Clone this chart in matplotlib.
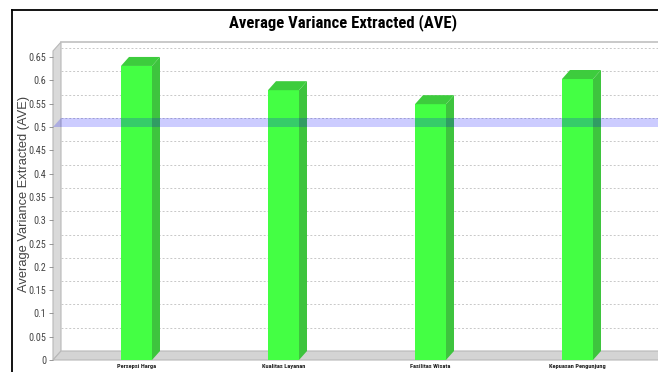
import matplotlib
matplotlib.use("Agg")
from matplotlib import pyplot as plt
from matplotlib import font_manager
from matplotlib.patches import Polygon
from matplotlib.lines import Line2D

# data
categories = ["Persepsi Harga", "Kualitas Layanan", "Fasilitas Wisata", "Kepuasan Pengunjung"]
ave_values = [0.631, 0.579, 0.549, 0.603]
threshold = 0.5
tick_values = [0, 0.05, 0.1, 0.15, 0.2, 0.25, 0.3, 0.35, 0.4, 0.45, 0.5, 0.55, 0.6, 0.65]

installed = {f.name for f in font_manager.fontManager.ttflist}
narrow_pick = [n for n in ["Liberation Sans Narrow", "Roboto Condensed", "DejaVu Sans Condensed",
                           "Open Sans Condensed", "Roboto"] if n in installed]
narrow = narrow_pick[:1] + ["DejaVu Sans"]
arial = ["Liberation Sans", "DejaVu Sans"]

W, H = 658, 372
fig = plt.figure(figsize=(W / 100, H / 100), dpi=100)
fig.patch.set_facecolor("white")

# front plane of the 3d plot, in pixels
left_px, right_px, top_px, zero_px = 53, 658, 42, 360
px_per_unit = 466.0
px_per_cat = 147.0
first_center_px = 136.5

ax = fig.add_axes([left_px / W, (H - zero_px) / H, (right_px - left_px) / W, (zero_px - top_px) / H])
ymax = (zero_px - top_px) / px_per_unit
xmin = (left_px - first_center_px) / px_per_cat
xmax = (right_px - first_center_px) / px_per_cat
ax.set_xlim(xmin, xmax)
ax.set_ylim(0, ymax)
for s in ax.spines.values():
    s.set_visible(False)

# 3d offset
DX = 8 / px_per_cat
DY = 9 / px_per_unit

# left wall and floor
ax.add_patch(Polygon([(xmin, 0), (xmin + DX, DY), (xmin + DX, ymax), (xmin, ymax - DY)],
                     closed=True, facecolor="#d9d9d9", edgecolor="#b8b8b8", lw=0.8, zorder=1, clip_on=False))
ax.add_patch(Polygon([(xmin, 0), (xmax, 0), (xmax + DX, DY), (xmin + DX, DY)],
                     closed=True, facecolor="#d4d4d4", edgecolor="#b8b8b8", lw=0.8, zorder=1, clip_on=False))
ax.plot([xmin + DX, xmax], [ymax, ymax], color="#c0c0c0", lw=1.2, zorder=1, clip_on=False)

# gridlines on back wall
for v in tick_values[1:]:
    ax.plot([xmin + DX, xmax], [v + DY, v + DY], color="#c8c8c8", lw=0.7,
            linestyle=(0, (2, 2)), zorder=1.5)

# bars
x = list(range(len(categories)))
bw = 31 / px_per_cat
ax.bar(x, ave_values, width=bw, color="#44ff44", zorder=3)
for xi, v in zip(x, ave_values):
    r = xi + bw / 2
    l = xi - bw / 2
    ax.add_patch(Polygon([(r, 0), (r + DX, DY), (r + DX, v + DY), (r, v)],
                         closed=True, facecolor="#3ec43e", edgecolor="none", zorder=3))
    ax.add_patch(Polygon([(l, v), (r, v), (r + DX, v + DY), (l + DX, v + DY)],
                         closed=True, facecolor="#3dcc3d", edgecolor="none", zorder=3))

# threshold marker plane
ax.add_patch(Polygon([(xmin, threshold), (xmax, threshold), (xmax + DX, threshold + DY),
                      (xmin + DX, threshold + DY)],
                     closed=True, facecolor="#0000ff", alpha=0.2, edgecolor="none", zorder=4))

ax.set_yticks(tick_values)
ax.set_yticklabels([f"{v:g}" for v in tick_values], fontsize=7.3, family=narrow, color="#444444")
ax.tick_params(axis="y", length=3, width=0.6, color="#888888", pad=2)
ax.set_xticks(x)
ax.set_xticklabels(categories, fontsize=4.6, fontweight="bold", family=narrow, color="#222222")
ax.tick_params(axis="x", length=0, pad=3)

fig.text(24 / W, 1 - 194 / H, "Average Variance Extracted (AVE)", rotation=90,
         ha="center", va="center", fontsize=9.3, family=arial, color="#444444")
fig.text(343 / W, 1 - 23 / H, "Average Variance Extracted (AVE)", ha="center", va="center",
         fontsize=12, fontweight="bold", family=narrow)

# outer border
fig.add_artist(Line2D([12 / W, 1], [1 - 10 / H, 1 - 10 / H], color="black", lw=1.3))
fig.add_artist(Line2D([12 / W, 12 / W], [0, 1 - 10 / H], color="black", lw=1.3))

fig.savefig("out.png", dpi=100)
